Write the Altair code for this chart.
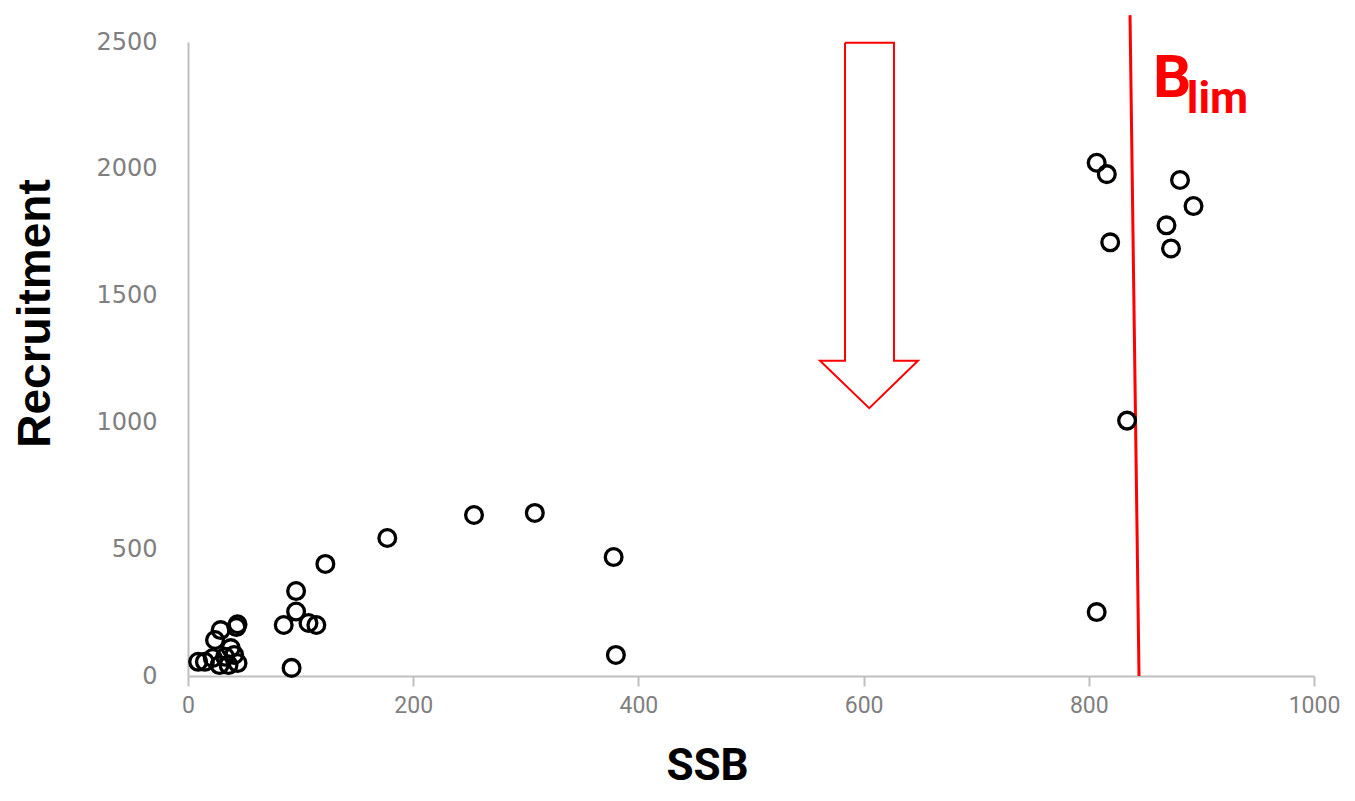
import altair as alt
import pandas as pd

# Stock–recruitment observations (SSB, Recruitment)
ssb = [807, 816, 881, 893, 869, 873, 819, 834, 807,
       254, 308, 177, 378, 380, 122, 96, 96, 85, 107, 114, 92, 43,
       44, 29, 24, 9, 15, 33, 41, 36, 28, 44, 22, 38]
recruitment = [2024, 1979, 1956, 1853, 1777, 1686, 1710, 1007, 252,
               635, 643, 544, 469, 83, 442, 335, 254, 201, 209, 201, 32, 193,
               204, 181, 142, 56, 56, 76, 83, 43, 43, 51, 71, 110]

# Blim reference line (slightly slanted in the original)
blim_x = [836.6, 844.6]
blim_y = [2606, 0]

# Downward arrow outline (annotation)
arrow_x = [583.5, 627, 627, 648.3, 605, 561.3, 583.5, 583.5]
arrow_y = [2497, 2497, 1243, 1243, 1056, 1243, 1243, 2497]

# Blim label
label_main = ["B"]
label_sub = ["lim"]
label_main_xy = [857, 2283]
label_sub_xy = [887, 2220]

pts = pd.DataFrame({"SSB": ssb, "Recruitment": recruitment})
blim = pd.DataFrame({"SSB": blim_x, "Recruitment": blim_y})
arrow = pd.DataFrame({"SSB": arrow_x, "Recruitment": arrow_y, "o": list(range(len(arrow_x)))})
lab1 = pd.DataFrame({"SSB": [label_main_xy[0]], "Recruitment": [label_main_xy[1]], "t": label_main})
lab2 = pd.DataFrame({"SSB": [label_sub_xy[0]], "Recruitment": [label_sub_xy[1]], "t": label_sub})

xscale = alt.Scale(domain=[0, 1000], nice=False, zero=False)
yscale = alt.Scale(domain=[0, 2500], nice=False, zero=False)

xaxis = alt.Axis(
    values=[0, 200, 400, 600, 800, 1000], grid=False, format="d", labelFlush=False,
    domainColor="#bfbfbf", domainWidth=2,
    tickColor="#bfbfbf", tickWidth=2, tickSize=10,
    labelColor="#7f7f7f", labelFontSize=23, labelFont="Roboto",
    labelPadding=8,
    title="SSB", titleFont="Roboto",
    titleFontSize=44, titleFontWeight="bold", titleColor="black",
    titleX=519, titleY=103, titleBaseline="alphabetic", titleAlign="center",
)
yaxis = alt.Axis(
    values=[0, 500, 1000, 1500, 2000, 2500], grid=False, format="d", labelFlush=False,
    domainColor="#bfbfbf", domainWidth=2,
    ticks=False, tickSize=0,
    labelColor="#7f7f7f", labelFontSize=24, labelFont="DejaVu Sans",
    labelPadding=31,
    title="Recruitment", titleFont="Liberation Sans, Arial, sans-serif",
    titleFontSize=46, titleFontWeight="bold", titleColor="black",
    titleX=-153, titleY=271, titleAngle=270, titleBaseline="middle", titleAlign="center",
)

points = alt.Chart(pts).mark_point(
    filled=False, color="black", strokeWidth=3.3, size=280, opacity=1
).encode(
    x=alt.X("SSB:Q", scale=xscale, axis=xaxis),
    y=alt.Y("Recruitment:Q", scale=yscale, axis=yaxis),
)

blim_line = alt.Chart(blim).mark_line(color="#ff0000", strokeWidth=3, clip=False).encode(
    x=alt.X("SSB:Q", scale=xscale), y=alt.Y("Recruitment:Q", scale=yscale)
)

arrow_line = alt.Chart(arrow).mark_line(color="#ff0000", strokeWidth=2, strokeJoin="miter").encode(
    x=alt.X("SSB:Q", scale=xscale), y=alt.Y("Recruitment:Q", scale=yscale),
    order="o:Q",
)

t1 = alt.Chart(lab1).mark_text(
    text="B", color="#ff0000", fontSize=60, fontWeight="bold", font="Roboto",
    align="left", baseline="alphabetic",
).encode(x=alt.X("SSB:Q", scale=xscale), y=alt.Y("Recruitment:Q", scale=yscale))

t2 = alt.Chart(lab2).mark_text(
    text="lim", color="#ff0000", fontSize=44, fontWeight="bold", font="Roboto",
    align="left", baseline="alphabetic",
).encode(x=alt.X("SSB:Q", scale=xscale), y=alt.Y("Recruitment:Q", scale=yscale))

chart = alt.layer(arrow_line, blim_line, points, t1, t2).properties(
    width=1126, height=634,
    autosize=alt.AutoSizeParams(type="none"),
    padding={"left": 180, "top": 34, "right": 33, "bottom": 119},
    background="white",
).configure_view(stroke=None)

chart.save("out.html", embed_options={"renderer": "svg", "actions": False})
